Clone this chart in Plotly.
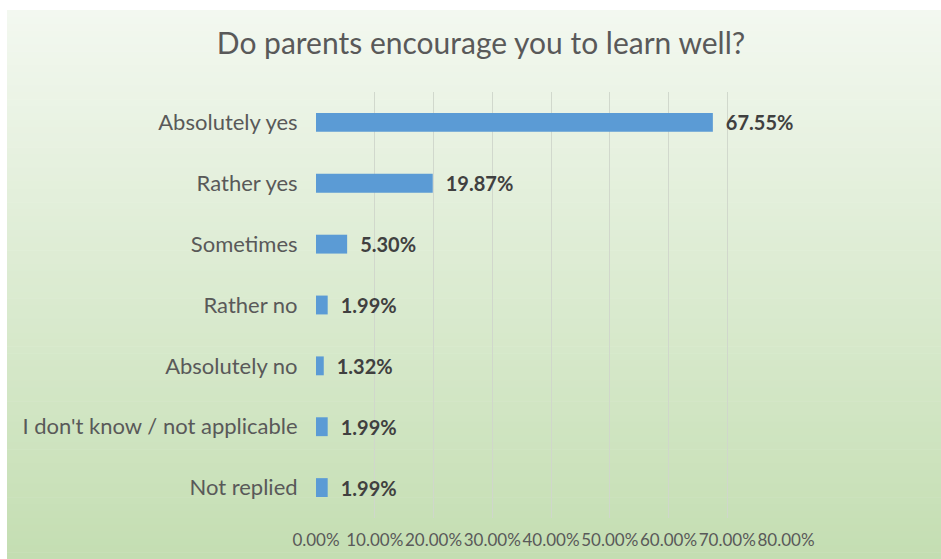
import plotly.graph_objects as go

categories = ["Absolutely yes", "Rather yes", "Sometimes", "Rather no",
              "Absolutely no", "I don't know / not applicable", "Not replied"]
values = [67.55, 19.87, 5.30, 1.99, 1.32, 1.99, 1.99]
value_labels = ["67.55%", "19.87%", "5.30%", "1.99%", "1.32%", "1.99%", "1.99%"]
x_ticks = [0, 10, 20, 30, 40, 50, 60, 70, 80]
x_tick_labels = ["0.00%", "10.00%", "20.00%", "30.00%", "40.00%",
                 "50.00%", "60.00%", "70.00%", "80.00%"]
title_text = "Do parents encourage you to learn well?"

W, H = 941, 559
L, R, T, B = 316, 155, 92, 41
pw, ph = W - L - R, H - T - B

fig = go.Figure(go.Bar(
    y=categories, x=values, orientation="h",
    marker=dict(color="#5B9BD5", line=dict(width=0)),
    text=value_labels, texttemplate="\u2002%{text}",
    textposition="outside", cliponaxis=False, constraintext="none",
    textfont=dict(family="Lato", size=20, color="#404040", weight="bold"),
))

# gradient background (white-green top to green bottom) drawn as thin strips
top_c = (243, 248, 240)
bot_c = (196, 222, 178)
box_l, box_t = 7, 10
n = 80
shapes = []
for i in range(n):
    f0 = i / n
    f1 = (i + 1) / n
    fm = (i + 0.5) / n
    c = tuple(round(top_c[k] + (bot_c[k] - top_c[k]) * fm) for k in range(3))
    py0 = box_t + (H - box_t) * f0
    py1 = box_t + (H - box_t) * f1 + 0.6
    shapes.append(dict(
        type="rect", layer="below", xref="paper", yref="paper",
        x0=(box_l - L) / pw, x1=(W - L) / pw,
        y0=(H - B - py1) / ph, y1=(H - B - py0) / ph,
        fillcolor="rgb(%d,%d,%d)" % c, line=dict(width=0),
    ))

fig.update_layout(
    width=W, height=H,
    margin=dict(l=L, r=R, t=T, b=B, pad=0, autoexpand=False),
    paper_bgcolor="white", plot_bgcolor="rgba(0,0,0,0)",
    shapes=shapes,
    bargap=0.69,
    showlegend=False,
    title=dict(text=title_text, x=481 / W, xanchor="center",
               y=1 - 43 / H, yanchor="middle",
               font=dict(family="Lato", size=30, color="#595959"),
               automargin=False),
    font=dict(family="Lato", color="#595959"),
)
fig.update_xaxes(
    range=[0, 80], tickvals=x_ticks, ticktext=x_tick_labels,
    tickangle=0, automargin=False,
    showgrid=True, gridcolor="rgba(208,214,203,0.95)", gridwidth=1,
    zeroline=False, showline=False,
    tickfont=dict(family="Lato", size=17, color="#595959"),
    ticks="outside", ticklen=7, tickcolor="rgba(0,0,0,0)",
    fixedrange=True,
)
fig.update_yaxes(
    categoryorder="array", categoryarray=categories, autorange="reversed",
    automargin=False,
    showgrid=False, zeroline=False, showline=False,
    tickfont=dict(family="Lato", size=22, color="#595959"),
    ticks="outside", ticklen=13, tickcolor="rgba(0,0,0,0)",
    fixedrange=True,
)
fig.write_html("out.html", config={"displayModeBar": False},
               post_script="document.body.style.margin='0';")
